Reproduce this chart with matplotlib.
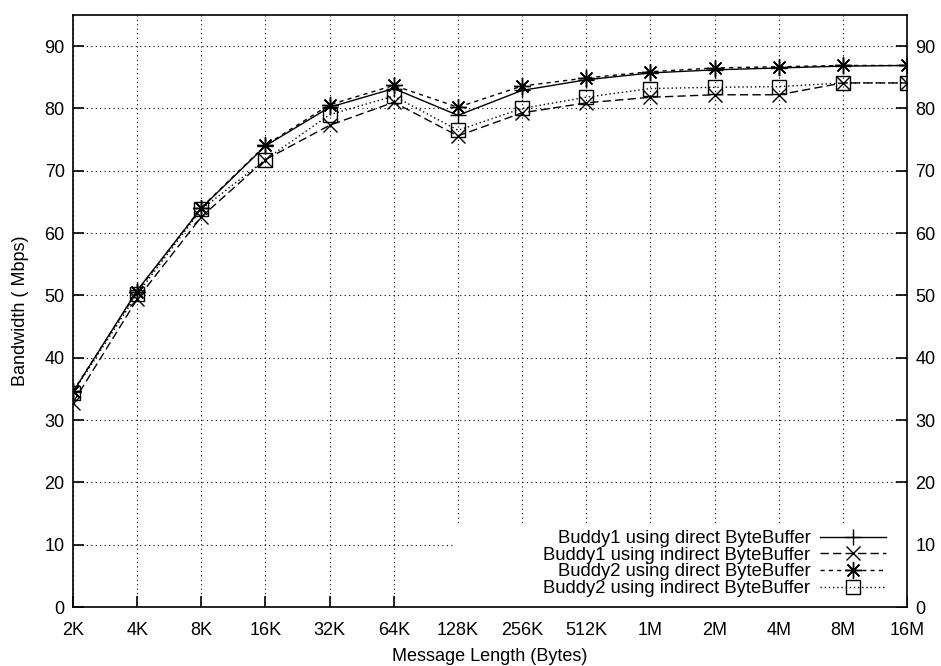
import matplotlib
matplotlib.use("Agg")
import matplotlib.pyplot as plt
from matplotlib.patches import Rectangle

categories = ["2K", "4K", "8K", "16K", "32K", "64K", "128K", "256K", "512K", "1M", "2M", "4M", "8M", "16M"]
buddy1_direct = [34.5, 50.8, 64.0, 74.0, 80.2, 83.2, 78.9, 82.9, 84.6, 85.7, 86.2, 86.5, 86.8, 86.9]
buddy1_indirect = [32.8, 49.4, 62.6, 71.8, 77.3, 81.0, 75.6, 79.3, 80.9, 81.8, 82.2, 82.2, 84.1, 84.1]
buddy2_direct = [34.6, 50.6, 64.1, 74.1, 80.6, 83.7, 80.2, 83.6, 84.9, 85.9, 86.5, 86.7, 86.9, 86.9]
buddy2_indirect = [34.4, 50.2, 63.8, 71.8, 79.0, 82.0, 76.5, 80.0, 81.8, 83.2, 83.4, 83.5, 84.1, 84.1]
labels = ["Buddy1 using direct ByteBuffer", "Buddy1 using indirect ByteBuffer",
          "Buddy2 using direct ByteBuffer", "Buddy2 using indirect ByteBuffer"]
yticks = [0, 10, 20, 30, 40, 50, 60, 70, 80, 90]

plt.rcParams['font.family'] = ['Liberation Sans', 'DejaVu Sans']
plt.rcParams['font.size'] = 13

W, H = 941, 666
fig = plt.figure(figsize=(W/100, H/100), dpi=100)
ax = fig.add_axes([73/W, 1-607/H, (907-73)/W, (607-15)/H])

x = list(range(len(categories)))
ax.plot(x, buddy1_direct, color='black', lw=1.0, ls='-', marker='+', ms=12, mew=1.0, label=labels[0], zorder=3)
ax.plot(x, buddy1_indirect, color='black', lw=1.0, ls=(0, (6, 3)), marker='x', ms=10, mew=1.0, label=labels[1], zorder=3)
ax.plot(x, buddy2_direct, color='black', lw=1.0, ls=(0, (3, 3)), marker=(8, 2, 0), ms=12, mew=1.0, label=labels[2], zorder=3)
ax.plot(x, buddy2_indirect, color='black', lw=1.0, ls=(0, (1, 2)), marker='s', ms=10, mew=1.0,
        mfc='none', label=labels[3], zorder=3)

ax.set_xlim(0, len(categories) - 1)
ax.set_ylim(0, 95)
ax.set_xticks(x)
ax.set_xticklabels(categories)
ax.set_yticks(yticks)
ax.tick_params(axis='both', direction='in', length=8, width=1.2)
ax.tick_params(axis='y', right=True, labelright=True, pad=6)
ax.tick_params(axis='x', pad=10.5)
ax.grid(True, color='black', ls=(0, (1, 3)), lw=0.8)
ax.set_axisbelow(True)
for s in ax.spines.values():
    s.set_linewidth(1.2)
    s.set_zorder(4)

ax.set_xlabel("Message Length (Bytes)", labelpad=6.5)
ax.set_ylabel("Bandwidth ( Mbps)", labelpad=11)

# opaque key area (hides grid behind the key, as in the reference)
ax.add_patch(Rectangle(((455-73)/(907-73), 0), 1-(455-73)/(907-73), (607-525)/(607-15),
                       transform=ax.transAxes, facecolor='white', edgecolor='none', zorder=1))

leg = ax.legend(loc='lower right', markerfirst=False, frameon=False,
                handlelength=3.6, handletextpad=0.5, labelspacing=-0.02,
                borderaxespad=0.0, borderpad=0.0, fontsize=13.3,
                bbox_to_anchor=(886/W, 1-597/H), bbox_transform=fig.transFigure)

fig.savefig("out.png", dpi=100)
